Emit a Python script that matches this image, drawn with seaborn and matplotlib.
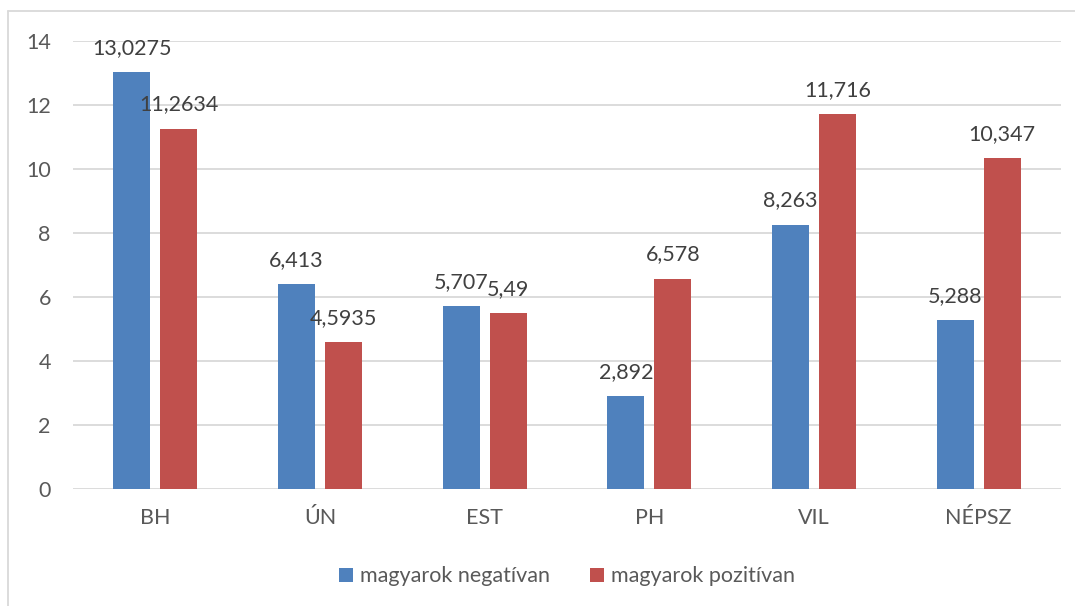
import matplotlib
matplotlib.use("Agg")
import matplotlib.pyplot as plt
from matplotlib.lines import Line2D
import seaborn as sns
import pandas as pd

categories = ["BH", "ÚN", "EST", "PH", "VIL", "NÉPSZ"]
negativ = [13.0275, 6.413, 5.707, 2.892, 8.263, 5.288]
pozitiv = [11.2634, 4.5935, 5.49, 6.578, 11.716, 10.347]
negativ_labels = ["13,0275", "6,413", "5,707", "2,892", "8,263", "5,288"]
pozitiv_labels = ["11,2634", "4,5935", "5,49", "6,578", "11,716", "10,347"]
series = ["magyarok negatívan", "magyarok pozitívan"]
yticks = [0, 2, 4, 6, 8, 10, 12, 14]

df = pd.DataFrame({
    "kat": categories * 2,
    "ertek": negativ + pozitiv,
    "sorozat": [series[0]] * len(categories) + [series[1]] * len(categories),
})

sns.set_theme(style="white")
plt.rcParams["font.family"] = ["Lato", "DejaVu Sans"]

FS = 15.5

fig = plt.figure(figsize=(10.75, 6.06), dpi=100)
ax = fig.add_axes([73 / 1075, 1 - 489 / 606, (1061 - 73) / 1075, (489 - 41) / 606])

palette = {series[0]: "#4F81BD", series[1]: "#C0504D"}
sns.barplot(data=df, x="kat", y="ertek", hue="sorozat", palette=palette,
            width=0.572, gap=0.21, saturation=1, ax=ax, errorbar=None,
            order=categories, hue_order=series, linewidth=0)

ax.set_ylim(0, 14)
ax.set_xlim(-0.5, len(categories) - 0.5)
ax.set_yticks(yticks)
ax.set_yticklabels([str(t) for t in yticks])
ax.yaxis.grid(True, color="#D9D9D9", linewidth=1.3)
ax.set_axisbelow(True)
for s in ax.spines.values():
    s.set_visible(False)
ax.tick_params(axis="y", length=0, pad=16, labelsize=FS, labelcolor="#595959")
ax.tick_params(axis="x", length=0, pad=14, labelsize=FS, labelcolor="#595959")
ax.set_xlabel("")
ax.set_ylabel("")

# value labels above each bar
for container, labels in zip(ax.containers, [negativ_labels, pozitiv_labels]):
    for bar, lab in zip(container, labels):
        ax.annotate(lab, (bar.get_x() + bar.get_width() / 2, bar.get_height()),
                    xytext=(0, 13), textcoords="offset points",
                    ha="center", va="baseline", fontsize=FS, color="#404040",
                    annotation_clip=False)

leg = ax.legend(loc="center", bbox_to_anchor=(0.5, -0.195), ncol=2, frameon=False,
                fontsize=FS, handlelength=0.65, handleheight=0.65,
                handletextpad=0.3, columnspacing=1.9)
for t in leg.get_texts():
    t.set_color("#595959")

# chart area border (left and top edges)
fig.add_artist(Line2D([8 / 1075, 8 / 1075], [0, 1 - 11 / 606], transform=fig.transFigure,
                      color="#D9D9D9", linewidth=1.3))
fig.add_artist(Line2D([8 / 1075, 1], [1 - 11 / 606, 1 - 11 / 606], transform=fig.transFigure,
                      color="#D9D9D9", linewidth=1.3))

fig.savefig("out.png", dpi=100)
